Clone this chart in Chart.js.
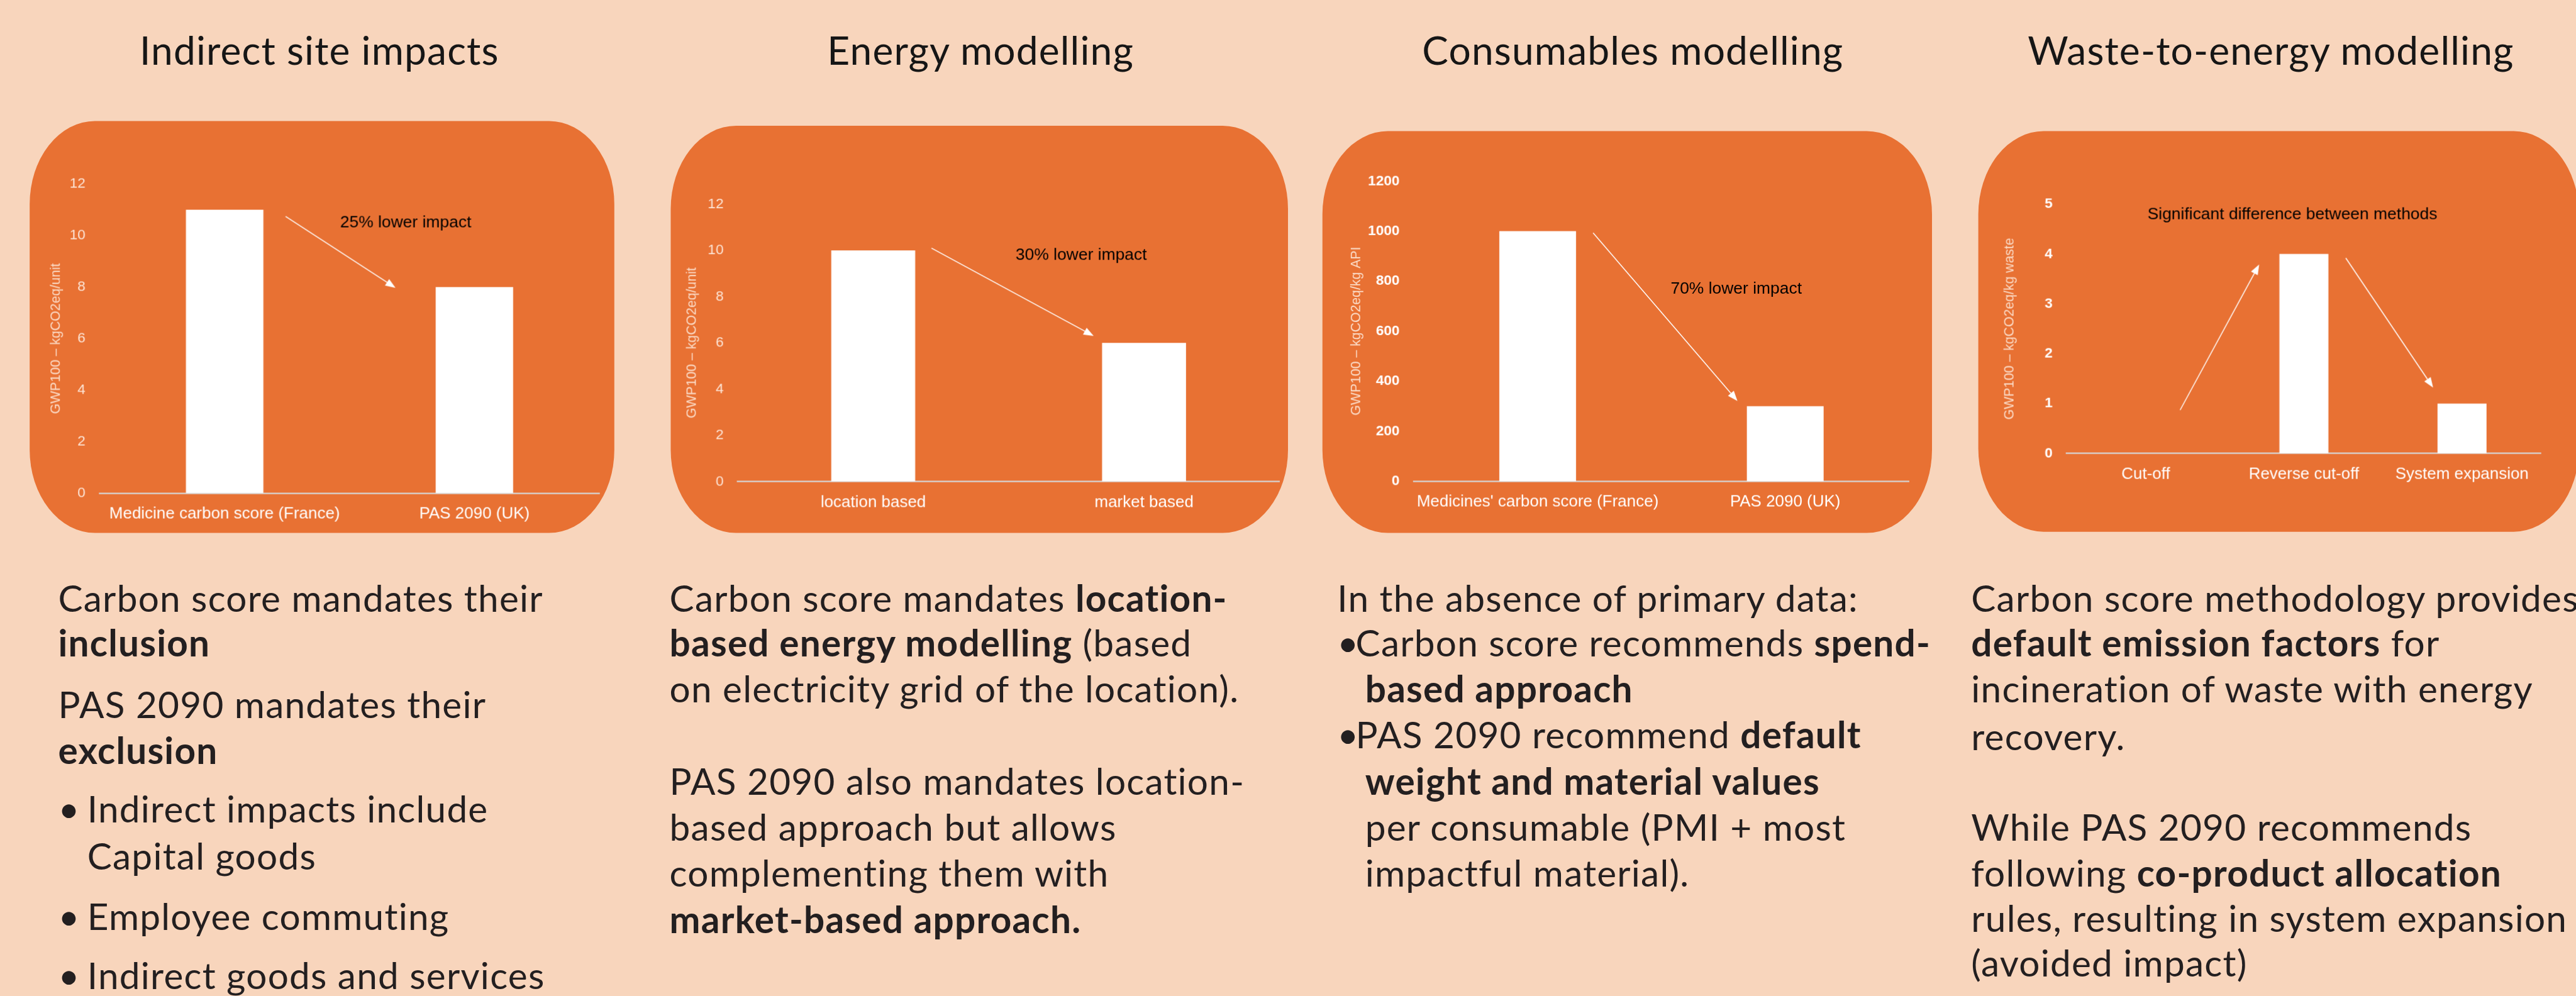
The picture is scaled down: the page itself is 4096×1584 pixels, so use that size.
<!DOCTYPE html>
<html lang="en">
<head>
<meta charset="UTF-8">
<title>Carbon score vs PAS 2090</title>
<script src="https://cdn.jsdelivr.net/npm/chart.js@4.4.0/dist/chart.umd.min.js"></script>
<style>
  html, body { margin: 0; padding: 0; width: 4096px; height: 1584px; overflow: hidden; background: #F8D5BC; }
  #page {
    position: absolute; left: 0; top: 0; width: 4340px; height: 1678px;
    transform: scale(0.94378); transform-origin: 0 0; overflow: hidden;
    background: #F8D5BC; font-family: Lato, "Noto Sans", sans-serif; color: #231F20;
  }
  .panel { position: absolute; background: #E87133; border-radius: 110px / 140px; }
  .title { position: absolute; font-size: 66px; line-height: 60px; font-weight: 400; letter-spacing: 1.2px; white-space: nowrap; transform: translateX(-50%); color: #161616; }
  .ln { position: absolute; font-size: 62px; line-height: 60px; letter-spacing: 1.3px; white-space: nowrap; }
  .ln b { font-weight: 700; }
</style>
</head>
<body>
<div id="page"></div>

<script>
// ---- data ----
const labels1 = ['Medicine carbon score (France)', 'PAS 2090 (UK)'];
const values1 = [11, 8];
const ticks1 = [0, 2, 4, 6, 8, 10, 12];
const yTitle1 = 'GWP100 – kgCO2eq/unit';
const arrows1 = [[0.244, 10.74, 0.684, 7.97]];
const note1 = ['25% lower impact', 0.725, 10.5];

const labels2 = ['location based', 'market based'];
const values2 = [10, 6];
const ticks2 = [0, 2, 4, 6, 8, 10, 12];
const yTitle2 = 'GWP100 – kgCO2eq/unit';
const arrows2 = [[0.215, 10.1, 0.814, 6.3]];
const note2 = ['30% lower impact', 0.768, 9.8];

const labels3 = ["Medicines' carbon score (France)", 'PAS 2090 (UK)'];
const values3 = [1000, 300];
const ticks3 = [0, 200, 400, 600, 800, 1000, 1200];
const yTitle3 = 'GWP100 – kgCO2eq/kg API';
const arrows3 = [[0.224, 993, 0.807, 321]];
const note3 = ['70% lower impact', 0.802, 768];

const labels4 = ['Cut-off', 'Reverse cut-off', 'System expansion'];
const values4 = [0, 4, 1];
const ticks4 = [0, 1, 2, 3, 4, 5];
const yTitle4 = 'GWP100 – kgCO2eq/kg waste';
const arrows4 = [[0.217, 0.87, 0.717, 3.79], [1.265, 3.92, 1.817, 1.32]];
const note4 = ['Significant difference between methods', 0.927, 4.79];

const headings = ['Indirect site impacts', 'Energy modelling', 'Consumables modelling', 'Waste-to-energy modelling'];

// ---- layout (reference pixels, whole page is scaled down by S) ----
const S = 4096 / 4340;
const page = document.getElementById('page');
const headX = [538, 1652, 2751, 3826];

// panel: [left, top, width, height], area: [left, top, right, bottom] inside panel, tx: y title centre
const layouts = [
  { panel: [50, 204, 985, 694], area: [118, 106, 959, 627], tx: 45, bold: false, tickColor: '#FDE6D8' },
  { panel: [1130, 212, 1040, 686], area: [113, 132, 1025, 599], tx: 36, bold: false, tickColor: '#FDE6D8' },
  { panel: [2228, 221, 1027, 677], area: [154, 84, 988, 589], tx: 57, bold: true, tickColor: '#ffffff' },
  { panel: [3333, 221, 1012, 675], area: [149, 123, 948, 543], tx: 53, bold: true, tickColor: '#ffffff' }
];

headings.forEach(function (h, i) {
  const d = document.createElement('div');
  d.className = 'title';
  d.style.left = headX[i] + 'px';
  d.style.top = (111 - 57) + 'px';
  d.textContent = h;
  page.appendChild(d);
});

Chart.defaults.font.family = '"Liberation Sans", Arial, sans-serif';

function arrowPlugin(arrows, note) {
  return {
    id: 'arrows',
    afterDatasetsDraw(chart) {
      const ctx = chart.ctx, x = chart.scales.x, y = chart.scales.y;
      ctx.save();
      ctx.strokeStyle = '#ffffff';
      ctx.fillStyle = '#ffffff';
      ctx.lineWidth = 1.6;
      arrows.forEach(function (a) {
        const x1 = x.getPixelForValue(a[0]), y1 = y.getPixelForValue(a[1]);
        const x2 = x.getPixelForValue(a[2]), y2 = y.getPixelForValue(a[3]);
        const ang = Math.atan2(y2 - y1, x2 - x1);
        const hl = 17, hw = 6.5;
        const bx = x2 - hl * Math.cos(ang), by = y2 - hl * Math.sin(ang);
        ctx.beginPath();
        ctx.moveTo(x1, y1);
        ctx.lineTo(bx, by);
        ctx.stroke();
        ctx.beginPath();
        ctx.moveTo(x2, y2);
        ctx.lineTo(bx + hw * Math.sin(ang), by - hw * Math.cos(ang));
        ctx.lineTo(bx - hw * Math.sin(ang), by + hw * Math.cos(ang));
        ctx.closePath();
        ctx.fill();
      });
      ctx.fillStyle = '#000000';
      ctx.font = '28px "Liberation Sans", Arial, sans-serif';
      ctx.textAlign = 'center';
      ctx.textBaseline = 'middle';
      ctx.fillText(note[0], x.getPixelForValue(note[1]), y.getPixelForValue(note[2]));
      ctx.restore();
    }
  };
}

function makeChart(lay, labels, values, yTicks, yTitle, arrows, note) {
  const p = document.createElement('div');
  p.className = 'panel';
  p.style.left = lay.panel[0] + 'px';
  p.style.top = lay.panel[1] + 'px';
  p.style.width = lay.panel[2] + 'px';
  p.style.height = lay.panel[3] + 'px';
  const cv = document.createElement('canvas');
  p.appendChild(cv);
  page.appendChild(p);

  const titleSize = 22.5;
  const padLeft = lay.tx - titleSize * 1.2 / 2;
  const xAxisH = 60;

  new Chart(cv, {
    type: 'bar',
    data: {
      labels: labels,
      datasets: [{
        data: values,
        backgroundColor: '#ffffff',
        borderWidth: 0,
        barPercentage: 0.31,
        categoryPercentage: 1
      }]
    },
    options: {
      responsive: true,
      maintainAspectRatio: false,
      devicePixelRatio: S,
      animation: false,
      layout: {
        padding: {
          left: padLeft,
          top: lay.area[1],
          right: lay.panel[2] - lay.area[2],
          bottom: lay.panel[3] - lay.area[3] - xAxisH
        }
      },
      plugins: { legend: { display: false }, tooltip: { enabled: false } },
      scales: {
        x: {
          grid: { display: false, drawTicks: false },
          border: { display: true, color: '#D6D6D6', width: 2.5 },
          ticks: {
            color: '#ffffff', font: { size: 27.5 }, padding: 18.5,
            maxRotation: 0, minRotation: 0, autoSkip: false
          },
          afterFit: function (s) { s.height = xAxisH; }
        },
        y: {
          min: yTicks[0],
          max: yTicks[yTicks.length - 1],
          grid: { display: false, drawTicks: false },
          border: { display: false },
          ticks: {
            color: lay.tickColor, padding: 24,
            font: { size: 24, weight: lay.bold ? 'bold' : 'normal' },
            callback: function (v) { return String(v); }
          },
          afterBuildTicks: function (s) { s.ticks = yTicks.map(function (v) { return { value: v }; }); },
          afterFit: function (s) { s.width = lay.area[0] - padLeft; },
          title: {
            display: true, text: yTitle, color: '#FBDCC8',
            font: { size: titleSize }, padding: 0
          }
        }
      }
    },
    plugins: [arrowPlugin(arrows, note)]
  });
}

makeChart(layouts[0], labels1, values1, ticks1, yTitle1, arrows1, note1);
makeChart(layouts[1], labels2, values2, ticks2, yTitle2, arrows2, note2);
makeChart(layouts[2], labels3, values3, ticks3, yTitle3, arrows3, note3);
makeChart(layouts[3], labels4, values4, ticks4, yTitle4, arrows4, note4);

// ---- body text: [x, baseline, html] ----
const textLines = [
  [98, 1032, 'Carbon score mandates their'],
  [98, 1107, '<b>inclusion</b>'],
  [98, 1211, 'PAS 2090 mandates their'],
  [98, 1288, '<b>exclusion</b>'],
  [98, 1387, '•'], [147, 1387, 'Indirect impacts include'],
  [147, 1466, 'Capital goods'],
  [98, 1568, '•'], [147, 1568, 'Employee commuting'],
  [98, 1668, '•'], [147, 1668, 'Indirect goods and services'],

  [1128, 1032, 'Carbon score mandates <b>location-</b>'],
  [1128, 1107, '<b>based energy modelling</b> (based'],
  [1128, 1185, 'on electricity grid of the location).'],
  [1128, 1340, 'PAS 2090 also mandates location-'],
  [1128, 1418, 'based approach but allows'],
  [1128, 1495, 'complementing them with'],
  [1128, 1573, '<b>market-based approach.</b>'],

  [2253, 1032, 'In the absence of primary data:'],
  [2253, 1107, '•'], [2284, 1107, 'Carbon score recommends <b>spend-</b>'],
  [2300, 1185, '<b>based approach</b>'],
  [2253, 1262, '•'], [2284, 1262, 'PAS 2090 recommend <b>default</b>'],
  [2300, 1340, '<b>weight and material values</b>'],
  [2300, 1418, 'per consumable (PMI + most'],
  [2300, 1495, 'impactful material).'],

  [3321, 1032, 'Carbon score methodology provides'],
  [3321, 1107, '<b>default emission factors</b> for'],
  [3321, 1185, 'incineration of waste with energy'],
  [3321, 1265, 'recovery.'],
  [3321, 1418, 'While PAS 2090 recommends'],
  [3321, 1495, 'following <b>co-product allocation</b>'],
  [3321, 1571, 'rules, resulting in system expansion'],
  [3321, 1646, '(avoided impact)']
];

textLines.forEach(function (t) {
  const d = document.createElement('div');
  d.className = 'ln';
  d.style.left = t[0] + 'px';
  d.style.top = (t[1] - 55) + 'px';
  d.innerHTML = t[2];
  page.appendChild(d);
});
</script>
</body>
</html>
